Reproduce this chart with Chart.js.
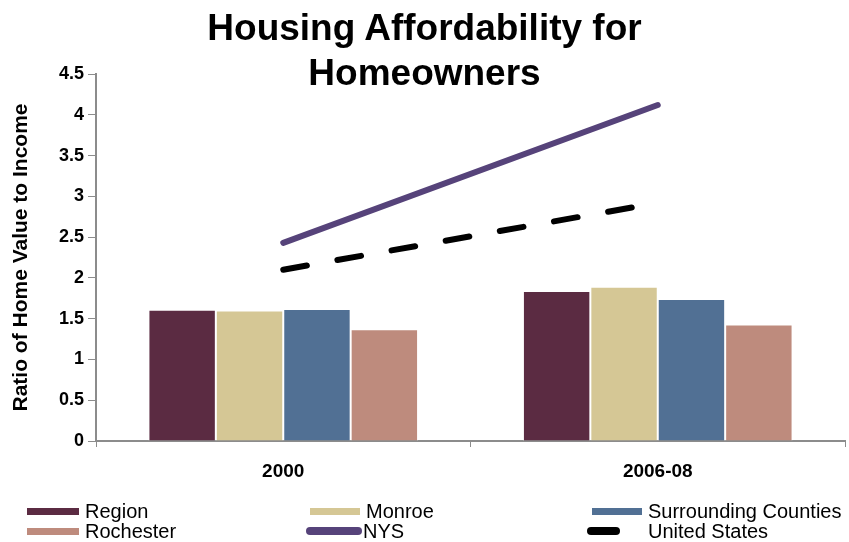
<!DOCTYPE html>
<html>
<head>
<meta charset="utf-8">
<script src="https://cdn.jsdelivr.net/npm/chart.js@4/dist/chart.umd.min.js"></script>
<style>
  html, body { margin: 0; padding: 0; background: #fff; }
  #wrap { position: relative; width: 849px; height: 542px; font-family: "Liberation Sans", Arial, sans-serif; }
  #title {
    position: absolute; left: 0; top: 5px; width: 849px; text-align: center;
    font-weight: bold; font-size: 37px; line-height: 45px; color: #000;
  }
  #legend { position: absolute; left: 0; top: 0; width: 849px; height: 542px; pointer-events: none; }
  .item { position: absolute; display: flex; align-items: center; height: 20px; font-size: 20px; color: #000; white-space: nowrap; }
  .sw { display: inline-block; margin-right: 6px; }
</style>
</head>
<body>
<div id="wrap">
  <canvas id="housingChart" width="849" height="542"></canvas>
  <div id="title">Housing Affordability for<br>Homeowners</div>
  <div id="legend"></div>
</div>
<script>
  const categories = ["2000", "2006-08"]
  const region = [1.61, 1.84]
  const monroe = [1.60, 1.89]
  const surrounding = [1.62, 1.74]
  const rochester = [1.37, 1.43]
  const nys = [2.43, 4.12]
  const unitedStates = [2.10, 2.92]
  const yMax = 4.5
  const yStep = 0.5

  const bar = (label, data, color) => ({
    type: "bar",
    label: label,
    data: data,
    backgroundColor: color,
    borderColor: "rgba(255,255,255,0.85)",
    borderWidth: 1,
    categoryPercentage: 0.72,
    barPercentage: 1.0,
    order: 2,
  })

  const datasets = [
    bar("Region", region, "#5B2B42"),
    bar("Monroe", monroe, "#D5C795"),
    bar("Surrounding Counties", surrounding, "#517094"),
    bar("Rochester", rochester, "#BE8B7D"),
    {
      type: "line",
      label: "NYS",
      data: nys,
      borderColor: "#56437A",
      borderWidth: 6,
      borderCapStyle: "round",
      pointRadius: 0,
      fill: false,
      order: 1,
    },
    {
      type: "line",
      label: "United States",
      data: unitedStates,
      borderColor: "#000000",
      borderWidth: 6,
      borderDash: [24, 31],
      borderCapStyle: "round",
      pointRadius: 0,
      fill: false,
      order: 0,
    },
  ]

  const axisGrey = "#8C8C8C"

  new Chart(document.getElementById("housingChart"), {
    data: { labels: categories, datasets: datasets },
    options: {
      responsive: false,
      animation: false,
      layout: { padding: { top: 74, right: 4, left: 0, bottom: 52 } },
      plugins: {
        legend: { display: false },
        title: { display: false },
        tooltip: { enabled: false },
      },
      scales: {
        x: {
          offset: true,
          grid: {
            display: true,
            offset: true,
            drawOnChartArea: false,
            drawTicks: true,
            tickLength: 6,
            color: axisGrey,
          },
          border: { color: axisGrey, width: 2 },
          ticks: {
            color: "#000",
            padding: 13,
            font: { family: "Liberation Sans, Arial", size: 19, weight: "bold" },
          },
          afterFit: (s) => { s.height = 49 },
        },
        y: {
          min: 0,
          max: yMax,
          grid: {
            display: true,
            drawOnChartArea: false,
            drawTicks: true,
            tickLength: 8,
            color: axisGrey,
          },
          border: { color: axisGrey, width: 2 },
          ticks: {
            stepSize: yStep,
            color: "#000",
            padding: 4,
            font: { family: "Liberation Sans, Arial", size: 18, weight: "bold" },
            callback: (v) => String(Math.round(v * 10) / 10),
          },
          title: {
            display: true,
            text: "Ratio of Home Value to Income",
            color: "#000",
            padding: { top: 9, bottom: 0 },
            font: { family: "Liberation Sans, Arial", size: 21, weight: "bold" },
          },
          afterFit: (s) => { s.width = 96 },
        },
      },
    },
  })

  // legend laid out in three columns, two rows
  const legendPos = [
    { x: 27, y: 501, w: 52 },
    { x: 310, y: 501, w: 50 },
    { x: 592, y: 501, w: 50 },
    { x: 27, y: 521, w: 52 },
    { x: 306, y: 521, w: 56 },
    { x: 587, y: 521, w: 33 },
  ]
  const legend = document.getElementById("legend")
  datasets.forEach((ds, i) => {
    const p = legendPos[i]
    const item = document.createElement("div")
    item.className = "item"
    item.style.left = p.x + "px"
    item.style.top = p.y + "px"
    const sw = document.createElement("span")
    sw.className = "sw"
    sw.style.width = p.w + "px"
    if (ds.type === "line") {
      sw.style.height = "8px"
      sw.style.borderRadius = "4px"
      sw.style.background = ds.borderColor
      if (ds.label === "United States") sw.style.marginRight = "28px"
      else sw.style.marginRight = "1px"
    } else {
      sw.style.height = "7px"
      sw.style.background = ds.backgroundColor
    }
    item.appendChild(sw)
    item.appendChild(document.createTextNode(ds.label))
    legend.appendChild(item)
  })
</script>
</body>
</html>
